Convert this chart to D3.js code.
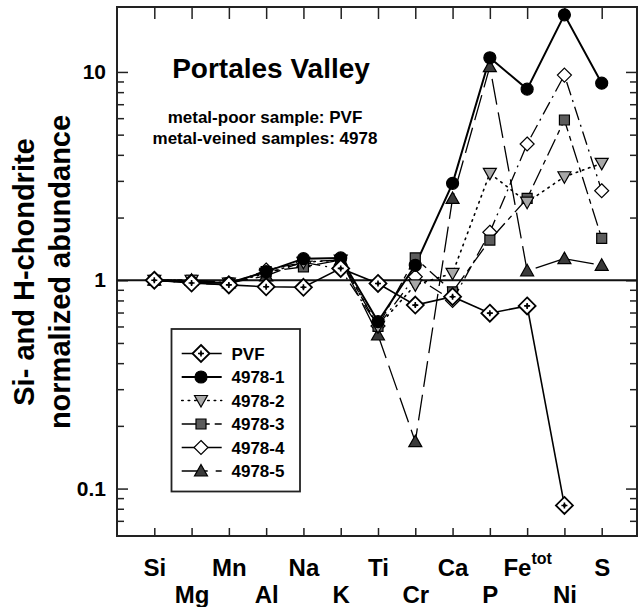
<!DOCTYPE html>
<html>
<head>
<meta charset="utf-8">
<script src="https://cdn.jsdelivr.net/npm/d3@7"></script>
<style>
  body { margin: 0; background: #fff; }
  svg { display: block; font-family: "Liberation Sans", Arial, sans-serif; font-weight: bold; }
</style>
</head>
<body>
<div id="chart"></div>
<script>
// element order along the x axis
var elements = ["Si", "Mg", "Mn", "Al", "Na", "K", "Ti", "Cr", "Ca", "P", "Fe", "Ni", "S"];

var pvf   = [1.0, 0.97, 0.95, 0.93, 0.925, 1.14, 0.965, 0.76, 0.834, 0.695, 0.753, 0.083, null];
var s4978_1 = [1.0, 0.98, 0.97, 1.1, 1.27, 1.28, 0.633, 1.18, 2.92, 11.7, 8.27, 18.8, 8.83];
var s4978_2 = [1.0, 1.0, 0.97, 1.08, 1.22, 1.25, 0.6, 0.95, 1.08, 3.26, 2.37, 3.14, 3.64];
var s4978_3 = [1.0, 1.0, 0.97, 1.1, 1.16, 1.25, 0.6, 1.28, 0.88, 1.56, 2.47, 5.88, 1.59];
var s4978_4 = [1.0, 0.97, 0.95, 1.12, 1.22, 1.13, 0.603, 1.04, 0.8, 1.7, 4.51, 9.66, 2.69];
var s4978_5 = [1.0, 1.0, 0.97, 1.05, 1.23, 1.25, 0.546, 0.168, 2.47, 10.6, 1.11, 1.27, 1.18];

var seriesNames = ["PVF", "4978-1", "4978-2", "4978-3", "4978-4", "4978-5"];
var yMajor = [0.1, 1, 10];
var yMinor = [0.07, 0.08, 0.09, 0.2, 0.3, 0.4, 0.5, 0.6, 0.7, 0.8, 0.9, 2, 3, 4, 5, 6, 7, 8, 9];

var W = 639, H = 607;
var margin = {left: 117, right: 2, top: 7, bottom: 71};

var svg = d3.select("#chart").append("svg")
  .attr("width", W)
  .attr("height", H);

var plotL = margin.left, plotR = W - margin.right, plotT = margin.top, plotB = H - margin.bottom;

var x = d3.scalePoint()
  .domain(elements)
  .range([154.3, 601.7]);

var y = d3.scaleLog()
  .domain([0.0592, 20.5])
  .range([plotB, plotT]);

// series styling
var series = [
  {name: "4978-5", values: s4978_5, shape: "triUp",   fill: "#3a3a3a", dash: "26,8",       width: 1.3},
  {name: "4978-4", values: s4978_4, shape: "diamond", fill: "#fff",    dash: "14,5,2,5",   width: 1.3},
  {name: "4978-3", values: s4978_3, shape: "square",  fill: "#5c5c5c", dash: "18,5,5,5",   width: 1.3},
  {name: "4978-2", values: s4978_2, shape: "triDown", fill: "#a8a8a8", dash: "1.5,5",      width: 1.6},
  {name: "4978-1", values: s4978_1, shape: "circle",  fill: "#000",    dash: null,         width: 2},
  {name: "PVF",    values: pvf,     shape: "pvf",     fill: "#fff",    dash: null,         width: 1.6}
];

function symbolPath(shape) {
  if (shape === "circle") return d3.symbol().type(d3.symbolCircle).size(Math.PI * 36)();
  if (shape === "square") return "M-5,-5H5V5H-5Z";
  if (shape === "triUp") return "M0,-6.5L6.5,5L-6.5,5Z";
  if (shape === "triDown") return "M0,6.5L6.5,-5L-6.5,-5Z";
  if (shape === "diamond") return "M0,-7L7,0L0,7L-7,0Z";
  if (shape === "pvf") return "M0,-8.5L8.5,0L0,8.5L-8.5,0Z";
}

function drawMarker(g, shape, fill) {
  g.append("path")
    .attr("d", symbolPath(shape))
    .attr("fill", fill)
    .attr("stroke", "#000")
    .attr("stroke-width", shape === "pvf" ? 1.8 : 1.2);
  if (shape === "pvf") {
    g.append("path")
      .attr("d", "M-3,0H3M0,-3V3")
      .attr("stroke", "#000")
      .attr("stroke-width", 1.6);
    g.append("circle").attr("r", 1.6).attr("fill", "#000");
  }
}

// axes: ticks point into the frame
var xBottom = d3.axisBottom(x).tickSizeInner(-8).tickSizeOuter(0).tickPadding(23);
var xTop = d3.axisTop(x).tickSizeInner(-12).tickSizeOuter(0).tickFormat("");

var gxb = svg.append("g")
  .attr("transform", "translate(0," + plotB + ")")
  .call(xBottom);
svg.append("g")
  .attr("transform", "translate(0," + plotT + ")")
  .call(xTop);

gxb.selectAll("text")
  .attr("font-size", 24)
  .attr("font-family", "Liberation Sans, Arial, sans-serif")
  .attr("font-weight", "bold")
  .attr("fill", "#000")
  .attr("dy", function(d, i) { return i % 2 ? "1.83em" : "0.71em"; })
  .each(function(d) {
    if (d === "Fe") {
      var t = d3.select(this);
      t.text("Fe");
      t.append("tspan").attr("font-size", 16).attr("dy", "-0.75em").text("tot");
    }
  });

var yLeftMajor = d3.axisLeft(y).tickValues(yMajor).tickSizeInner(-11).tickSizeOuter(0)
  .tickPadding(11).tickFormat(function(d) { return d3.format("")(d); });
var yLeftMinor = d3.axisLeft(y).tickValues(yMinor).tickSizeInner(-7).tickSizeOuter(0).tickFormat("");
var yRightMajor = d3.axisRight(y).tickValues(yMajor).tickSizeInner(-11).tickSizeOuter(0).tickFormat("");
var yRightMinor = d3.axisRight(y).tickValues(yMinor).tickSizeInner(-7).tickSizeOuter(0).tickFormat("");

var gyl = svg.append("g").attr("transform", "translate(" + plotL + ",0)").call(yLeftMajor);
svg.append("g").attr("transform", "translate(" + plotL + ",0)").call(yLeftMinor);
svg.append("g").attr("transform", "translate(" + plotR + ",0)").call(yRightMajor);
svg.append("g").attr("transform", "translate(" + plotR + ",0)").call(yRightMinor);

gyl.selectAll("text")
  .attr("font-size", 21)
  .attr("font-family", "Liberation Sans, Arial, sans-serif")
  .attr("font-weight", "bold")
  .attr("fill", "#000");

svg.selectAll(".domain").remove();
svg.selectAll(".tick line").attr("stroke", "#222").attr("stroke-width", 1.5);

// frame
svg.append("rect")
  .attr("x", plotL).attr("y", plotT)
  .attr("width", plotR - plotL).attr("height", plotB - plotT)
  .attr("fill", "none")
  .attr("stroke", "#222")
  .attr("stroke-width", 2);

// reference line at 1
svg.append("line")
  .attr("x1", plotL).attr("x2", plotR)
  .attr("y1", y(1)).attr("y2", y(1))
  .attr("stroke", "#111")
  .attr("stroke-width", 2.2);

// series lines and markers
var line = d3.line()
  .defined(function(d) { return d != null; })
  .x(function(d, i) { return x(elements[i]); })
  .y(function(d) { return y(d); });

series.forEach(function(s) {
  svg.append("path")
    .datum(s.values)
    .attr("d", line)
    .attr("fill", "none")
    .attr("stroke", "#000")
    .attr("stroke-width", s.width)
    .attr("stroke-linecap", s.name === "4978-2" ? "round" : "butt")
    .attr("stroke-dasharray", s.dash);
});

series.forEach(function(s) {
  s.values.forEach(function(v, i) {
    if (v == null) return;
    var g = svg.append("g")
      .attr("transform", "translate(" + x(elements[i]) + "," + y(v) + ")");
    drawMarker(g, s.shape, s.fill);
  });
});

// title and notes
svg.append("text")
  .attr("x", 271).attr("y", 78)
  .attr("text-anchor", "middle")
  .attr("font-size", 28)
  .text("Portales Valley");

svg.append("text")
  .attr("x", 265).attr("y", 122.5)
  .attr("text-anchor", "middle")
  .attr("font-size", 17)
  .text("metal-poor sample: PVF");

svg.append("text")
  .attr("x", 265).attr("y", 143.5)
  .attr("text-anchor", "middle")
  .attr("font-size", 17)
  .text("metal-veined samples: 4978");

// y axis title
var ylab = svg.append("text")
  .attr("transform", "translate(0,272) rotate(-90)")
  .attr("text-anchor", "middle")
  .attr("font-size", 29);
ylab.append("tspan").attr("x", 0).attr("y", 34).text("Si- and H-chondrite");
ylab.append("tspan").attr("x", 0).attr("y", 70).text("normalized abundance");

// legend
var legend = svg.append("g");
legend.append("rect")
  .attr("x", 171.5).attr("y", 329)
  .attr("width", 128.5).attr("height", 162.5)
  .attr("fill", "#fff")
  .attr("stroke", "#222")
  .attr("stroke-width", 1.8);

var legendOrder = seriesNames.map(function(n) {
  return series.filter(function(s) { return s.name === n; })[0];
});

legendOrder.forEach(function(s, i) {
  var ly = 353.5 + i * 23.5;
  legend.append("line")
    .attr("x1", 181.7).attr("x2", 221.7)
    .attr("y1", ly).attr("y2", ly)
    .attr("stroke", "#000")
    .attr("stroke-width", s.width)
    .attr("stroke-linecap", s.name === "4978-2" ? "round" : "butt")
    .attr("stroke-dasharray", s.dash);
  var g = legend.append("g").attr("transform", "translate(201," + ly + ")");
  drawMarker(g, s.shape, s.fill);
  legend.append("text")
    .attr("x", 231.5).attr("y", ly + 6)
    .attr("font-size", 17)
    .text(s.name);
});
</script>
</body>
</html>
